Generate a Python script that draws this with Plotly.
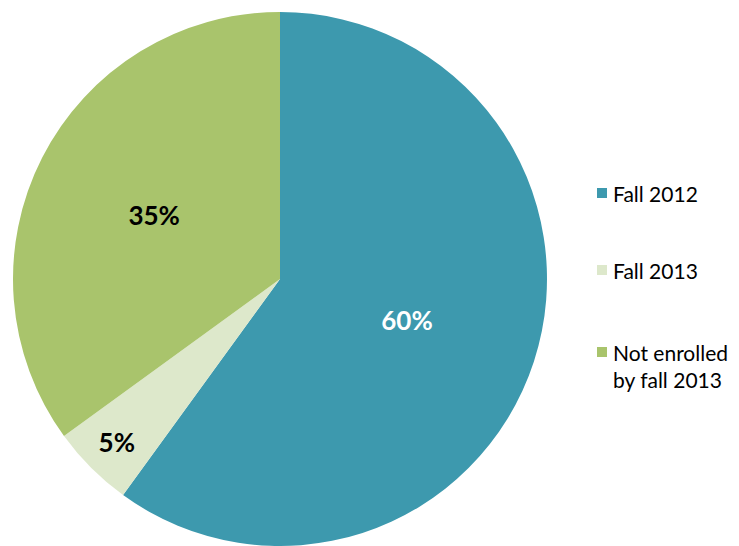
import plotly.graph_objects as go

categories = ["Fall 2012", "Fall 2013", "Not enrolled<br>by fall 2013"]
values = [60, 5, 35]
colors = ["#3D99AE", "#DDE8CB", "#A9C46C"]
text_colors = ["white", "black", "black"]

W, H = 739, 546
cx, cy, r = 280, 280, 268

fig = go.Figure()
fig.add_trace(go.Pie(
    labels=categories,
    values=values,
    sort=False,
    direction="clockwise",
    rotation=0,
    marker=dict(colors=colors, line=dict(width=0)),
    textinfo="percent",
    texttemplate="<b>%{percent:.0%}</b>",
    textposition="inside",
    insidetextorientation="horizontal",
    textfont=dict(family="Gill Sans, Lato", size=26, color=text_colors),
    domain=dict(x=[(cx - r) / W, (cx + r) / W], y=[0, 1 - (cy - r) / H]),
    showlegend=False,
    hoverinfo="label+percent",
))

# legend drawn manually
leg_y = [193, 270, 352]
annotations = []
shapes = []
for lab, col, yy in zip(categories, colors, leg_y):
    shapes.append(dict(type="rect", xref="paper", yref="paper",
                       x0=597 / W, x1=607 / W,
                       y0=1 - (yy + 5) / H, y1=1 - (yy - 5) / H,
                       fillcolor=col, line=dict(width=0)))
    annotations.append(dict(xref="paper", yref="paper", x=611 / W, y=1 - (yy - 14) / H,
                            xanchor="left", yanchor="top", align="left",
                            text=lab, showarrow=False,
                            font=dict(family="Gill Sans, Lato", size=21, color="black")))

fig.update_layout(
    width=W, height=H,
    margin=dict(l=0, r=0, t=0, b=0),
    paper_bgcolor="white",
    plot_bgcolor="white",
    shapes=shapes,
    annotations=annotations,
)

fig.write_html("out.html", config={"displayModeBar": False},
               post_script="document.body.style.margin='0';")
